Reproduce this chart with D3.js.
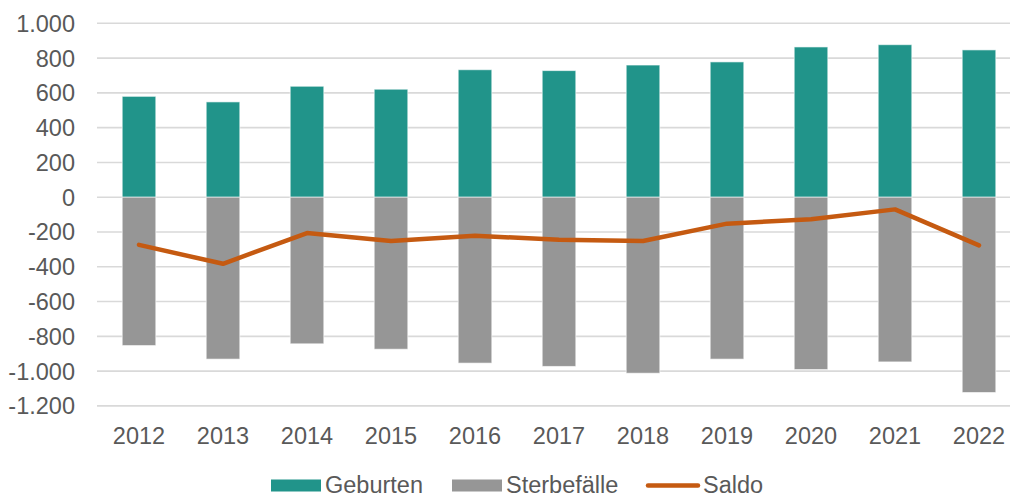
<!DOCTYPE html>
<html>
<head>
<meta charset="utf-8">
<script src="https://cdn.jsdelivr.net/npm/d3@7"></script>
<style>
  html, body { margin: 0; padding: 0; background: #fff; }
  svg { display: block; font-family: "Liberation Sans", Arial, sans-serif; }
</style>
</head>
<body>
<div id="chart"></div>
<script>
const years = ['2012', '2013', '2014', '2015', '2016', '2017', '2018', '2019', '2020', '2021', '2022'];
const geburten = [580, 548, 638, 621, 733, 728, 760, 778, 864, 877, 847];
const sterbefaelle = [-853, -931, -843, -874, -954, -973, -1012, -931, -991, -947, -1123];
const saldo = [-274, -383, -206, -252, -221, -245, -252, -152, -127, -70, -277];
const yTicks = [1000, 800, 600, 400, 200, 0, -200, -400, -600, -800, -1000, -1200];
const legendLabels = ['Geburten', 'Sterbefälle', 'Saldo'];

const COLOR_BIRTH = '#21948a';
const COLOR_DEATH = '#969696';
const COLOR_SALDO = '#c55a11';
const COLOR_TEXT = '#595959';
const COLOR_GRID = '#d9d9d9';
const FONT_SIZE = '23.5px';

const width = 1010;
const height = 496;
const plot = { left: 97, right: 1021, top: 23.3, bottom: 405.9 };

// German number format: 1.000, -1.200
const de = d3.formatLocale({ decimal: ',', thousands: '.', grouping: [3], currency: ['', ' €'], minus: '-' });
const fmt = de.format(',');

const svg = d3.select('#chart')
  .append('svg')
  .attr('width', width)
  .attr('height', height);

const xScale = d3.scaleBand()
  .domain(years)
  .range([plot.left, plot.right])
  .paddingInner(0.6)
  .paddingOuter(0.3);

const yScale = d3.scaleLinear()
  .domain([-1200, 1000])
  .range([plot.bottom, plot.top]);

// Gridlines
svg.append('g')
  .selectAll('line')
  .data(yTicks)
  .join('line')
  .attr('x1', plot.left)
  .attr('x2', plot.right)
  .attr('y1', (d) => yScale(d))
  .attr('y2', (d) => yScale(d))
  .attr('stroke', COLOR_GRID)
  .attr('stroke-width', 1.6);

// Y axis labels
svg.append('g')
  .selectAll('text')
  .data(yTicks)
  .join('text')
  .attr('x', 75)
  .attr('y', (d) => yScale(d))
  .attr('dy', '0.36em')
  .attr('text-anchor', 'end')
  .attr('fill', COLOR_TEXT)
  .style('font-size', FONT_SIZE)
  .text((d) => fmt(d));

// X axis labels
svg.append('g')
  .selectAll('text')
  .data(years)
  .join('text')
  .attr('x', (d) => xScale(d) + xScale.bandwidth() / 2)
  .attr('y', 443.5)
  .attr('text-anchor', 'middle')
  .attr('fill', COLOR_TEXT)
  .style('font-size', FONT_SIZE)
  .text((d) => d);

// Bars: births (positive) and deaths (negative)
svg.append('g')
  .selectAll('rect')
  .data(years.map((y, i) => ({ year: y, value: geburten[i] })))
  .join('rect')
  .attr('x', (d) => xScale(d.year))
  .attr('y', (d) => yScale(d.value))
  .attr('width', xScale.bandwidth())
  .attr('height', (d) => yScale(0) - yScale(d.value))
  .attr('fill', COLOR_BIRTH)
  .attr('stroke', 'rgba(255,255,255,0.6)')
  .attr('stroke-width', 1);

svg.append('g')
  .selectAll('rect')
  .data(years.map((y, i) => ({ year: y, value: sterbefaelle[i] })))
  .join('rect')
  .attr('x', (d) => xScale(d.year))
  .attr('y', yScale(0))
  .attr('width', xScale.bandwidth())
  .attr('height', (d) => yScale(d.value) - yScale(0))
  .attr('fill', COLOR_DEATH)
  .attr('stroke', 'rgba(255,255,255,0.6)')
  .attr('stroke-width', 1);

// Saldo line
const line = d3.line()
  .x((d) => xScale(d.year) + xScale.bandwidth() / 2)
  .y((d) => yScale(d.value));

svg.append('path')
  .datum(years.map((y, i) => ({ year: y, value: saldo[i] })))
  .attr('fill', 'none')
  .attr('stroke', COLOR_SALDO)
  .attr('stroke-width', 4.5)
  .attr('stroke-linejoin', 'round')
  .attr('stroke-linecap', 'round')
  .attr('d', line);

// Legend
const legend = svg.append('g');
const legendItems = [
  { label: legendLabels[0], x: 271, type: 'rect', color: COLOR_BIRTH },
  { label: legendLabels[1], x: 452, type: 'rect', color: COLOR_DEATH },
  { label: legendLabels[2], x: 646, type: 'line', color: COLOR_SALDO }
];
legendItems.forEach((item) => {
  if (item.type === 'rect') {
    legend.append('rect')
      .attr('x', item.x)
      .attr('y', 479.5)
      .attr('width', 50)
      .attr('height', 12)
      .attr('fill', item.color);
  } else {
    legend.append('line')
      .attr('x1', item.x + 2)
      .attr('x2', item.x + 52)
      .attr('y1', 485.5)
      .attr('y2', 485.5)
      .attr('stroke', item.color)
      .attr('stroke-width', 4.5)
      .attr('stroke-linecap', 'round');
  }
  legend.append('text')
    .attr('x', item.x + (item.type === 'rect' ? 54 : 57))
    .attr('y', 492.5)
    .attr('fill', COLOR_TEXT)
    .style('font-size', FONT_SIZE)
    .text(item.label);
});
</script>
</body>
</html>
